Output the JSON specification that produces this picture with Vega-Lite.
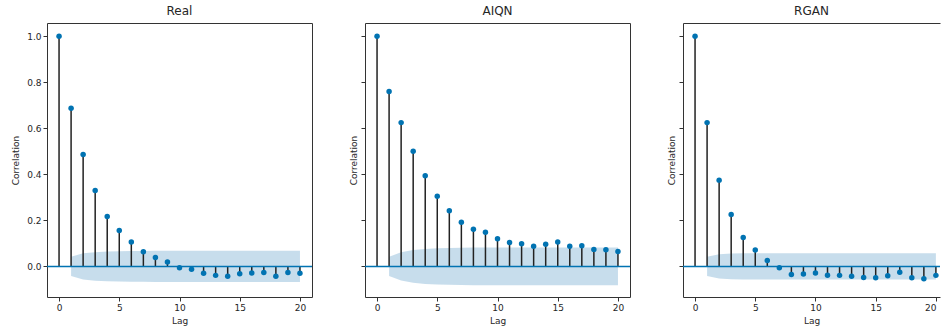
{
  "$schema": "https://vega.github.io/schema/vega-lite/v6.json",
  "padding": {"left": 11, "top": 4, "right": 0, "bottom": 2},
  "spacing": 53,
  "bounds": "flush",
  "datasets": {
    "acf": [
      {"s": "Real", "lag": 0, "v": 1.0}, {"s": "Real", "lag": 1, "v": 0.687}, {"s": "Real", "lag": 2, "v": 0.486}, {"s": "Real", "lag": 3, "v": 0.330}, {"s": "Real", "lag": 4, "v": 0.217}, {"s": "Real", "lag": 5, "v": 0.156}, {"s": "Real", "lag": 6, "v": 0.106}, {"s": "Real", "lag": 7, "v": 0.064}, {"s": "Real", "lag": 8, "v": 0.039}, {"s": "Real", "lag": 9, "v": 0.019}, {"s": "Real", "lag": 10, "v": -0.006}, {"s": "Real", "lag": 11, "v": -0.012}, {"s": "Real", "lag": 12, "v": -0.030}, {"s": "Real", "lag": 13, "v": -0.039}, {"s": "Real", "lag": 14, "v": -0.043}, {"s": "Real", "lag": 15, "v": -0.032}, {"s": "Real", "lag": 16, "v": -0.029}, {"s": "Real", "lag": 17, "v": -0.027}, {"s": "Real", "lag": 18, "v": -0.043}, {"s": "Real", "lag": 19, "v": -0.027}, {"s": "Real", "lag": 20, "v": -0.030},
      {"s": "AIQN", "lag": 0, "v": 1.0}, {"s": "AIQN", "lag": 1, "v": 0.760}, {"s": "AIQN", "lag": 2, "v": 0.625}, {"s": "AIQN", "lag": 3, "v": 0.501}, {"s": "AIQN", "lag": 4, "v": 0.394}, {"s": "AIQN", "lag": 5, "v": 0.305}, {"s": "AIQN", "lag": 6, "v": 0.242}, {"s": "AIQN", "lag": 7, "v": 0.192}, {"s": "AIQN", "lag": 8, "v": 0.161}, {"s": "AIQN", "lag": 9, "v": 0.148}, {"s": "AIQN", "lag": 10, "v": 0.120}, {"s": "AIQN", "lag": 11, "v": 0.104}, {"s": "AIQN", "lag": 12, "v": 0.098}, {"s": "AIQN", "lag": 13, "v": 0.088}, {"s": "AIQN", "lag": 14, "v": 0.096}, {"s": "AIQN", "lag": 15, "v": 0.106}, {"s": "AIQN", "lag": 16, "v": 0.088}, {"s": "AIQN", "lag": 17, "v": 0.090}, {"s": "AIQN", "lag": 18, "v": 0.074}, {"s": "AIQN", "lag": 19, "v": 0.072}, {"s": "AIQN", "lag": 20, "v": 0.065},
      {"s": "RGAN", "lag": 0, "v": 1.0}, {"s": "RGAN", "lag": 1, "v": 0.625}, {"s": "RGAN", "lag": 2, "v": 0.375}, {"s": "RGAN", "lag": 3, "v": 0.226}, {"s": "RGAN", "lag": 4, "v": 0.126}, {"s": "RGAN", "lag": 5, "v": 0.071}, {"s": "RGAN", "lag": 6, "v": 0.026}, {"s": "RGAN", "lag": 7, "v": -0.006}, {"s": "RGAN", "lag": 8, "v": -0.035}, {"s": "RGAN", "lag": 9, "v": -0.033}, {"s": "RGAN", "lag": 10, "v": -0.029}, {"s": "RGAN", "lag": 11, "v": -0.038}, {"s": "RGAN", "lag": 12, "v": -0.039}, {"s": "RGAN", "lag": 13, "v": -0.043}, {"s": "RGAN", "lag": 14, "v": -0.048}, {"s": "RGAN", "lag": 15, "v": -0.049}, {"s": "RGAN", "lag": 16, "v": -0.041}, {"s": "RGAN", "lag": 17, "v": -0.025}, {"s": "RGAN", "lag": 18, "v": -0.049}, {"s": "RGAN", "lag": 19, "v": -0.054}, {"s": "RGAN", "lag": 20, "v": -0.039}
    ],
    "band": [
      {"s": "Real", "lag": 1, "lo": -0.042, "hi": 0.042}, {"s": "Real", "lag": 2, "lo": -0.057, "hi": 0.057}, {"s": "Real", "lag": 3, "lo": -0.062, "hi": 0.062}, {"s": "Real", "lag": 4, "lo": -0.065, "hi": 0.065}, {"s": "Real", "lag": 5, "lo": -0.066, "hi": 0.066}, {"s": "Real", "lag": 6, "lo": -0.067, "hi": 0.067}, {"s": "Real", "lag": 7, "lo": -0.067, "hi": 0.067}, {"s": "Real", "lag": 8, "lo": -0.068, "hi": 0.068}, {"s": "Real", "lag": 9, "lo": -0.068, "hi": 0.068}, {"s": "Real", "lag": 10, "lo": -0.068, "hi": 0.068}, {"s": "Real", "lag": 11, "lo": -0.068, "hi": 0.068}, {"s": "Real", "lag": 12, "lo": -0.068, "hi": 0.068}, {"s": "Real", "lag": 13, "lo": -0.068, "hi": 0.068}, {"s": "Real", "lag": 14, "lo": -0.068, "hi": 0.068}, {"s": "Real", "lag": 15, "lo": -0.068, "hi": 0.068}, {"s": "Real", "lag": 16, "lo": -0.068, "hi": 0.068}, {"s": "Real", "lag": 17, "lo": -0.068, "hi": 0.068}, {"s": "Real", "lag": 18, "lo": -0.068, "hi": 0.068}, {"s": "Real", "lag": 19, "lo": -0.068, "hi": 0.068}, {"s": "Real", "lag": 20, "lo": -0.068, "hi": 0.068},
      {"s": "AIQN", "lag": 1, "lo": -0.042, "hi": 0.042}, {"s": "AIQN", "lag": 2, "lo": -0.061, "hi": 0.061}, {"s": "AIQN", "lag": 3, "lo": -0.071, "hi": 0.071}, {"s": "AIQN", "lag": 4, "lo": -0.076, "hi": 0.076}, {"s": "AIQN", "lag": 5, "lo": -0.079, "hi": 0.079}, {"s": "AIQN", "lag": 6, "lo": -0.080, "hi": 0.080}, {"s": "AIQN", "lag": 7, "lo": -0.081, "hi": 0.081}, {"s": "AIQN", "lag": 8, "lo": -0.082, "hi": 0.082}, {"s": "AIQN", "lag": 9, "lo": -0.082, "hi": 0.082}, {"s": "AIQN", "lag": 10, "lo": -0.082, "hi": 0.082}, {"s": "AIQN", "lag": 11, "lo": -0.082, "hi": 0.082}, {"s": "AIQN", "lag": 12, "lo": -0.082, "hi": 0.082}, {"s": "AIQN", "lag": 13, "lo": -0.082, "hi": 0.082}, {"s": "AIQN", "lag": 14, "lo": -0.082, "hi": 0.082}, {"s": "AIQN", "lag": 15, "lo": -0.082, "hi": 0.082}, {"s": "AIQN", "lag": 16, "lo": -0.082, "hi": 0.082}, {"s": "AIQN", "lag": 17, "lo": -0.082, "hi": 0.082}, {"s": "AIQN", "lag": 18, "lo": -0.082, "hi": 0.082}, {"s": "AIQN", "lag": 19, "lo": -0.082, "hi": 0.082}, {"s": "AIQN", "lag": 20, "lo": -0.082, "hi": 0.082},
      {"s": "RGAN", "lag": 1, "lo": -0.042, "hi": 0.042}, {"s": "RGAN", "lag": 2, "lo": -0.053, "hi": 0.053}, {"s": "RGAN", "lag": 3, "lo": -0.056, "hi": 0.056}, {"s": "RGAN", "lag": 4, "lo": -0.057, "hi": 0.057}, {"s": "RGAN", "lag": 5, "lo": -0.057, "hi": 0.057}, {"s": "RGAN", "lag": 6, "lo": -0.057, "hi": 0.057}, {"s": "RGAN", "lag": 7, "lo": -0.057, "hi": 0.057}, {"s": "RGAN", "lag": 8, "lo": -0.057, "hi": 0.057}, {"s": "RGAN", "lag": 9, "lo": -0.057, "hi": 0.057}, {"s": "RGAN", "lag": 10, "lo": -0.057, "hi": 0.057}, {"s": "RGAN", "lag": 11, "lo": -0.057, "hi": 0.057}, {"s": "RGAN", "lag": 12, "lo": -0.057, "hi": 0.057}, {"s": "RGAN", "lag": 13, "lo": -0.057, "hi": 0.057}, {"s": "RGAN", "lag": 14, "lo": -0.057, "hi": 0.057}, {"s": "RGAN", "lag": 15, "lo": -0.057, "hi": 0.057}, {"s": "RGAN", "lag": 16, "lo": -0.057, "hi": 0.057}, {"s": "RGAN", "lag": 17, "lo": -0.057, "hi": 0.057}, {"s": "RGAN", "lag": 18, "lo": -0.057, "hi": 0.057}, {"s": "RGAN", "lag": 19, "lo": -0.057, "hi": 0.057}, {"s": "RGAN", "lag": 20, "lo": -0.057, "hi": 0.057}
    ]
  },
  "hconcat": [
    {
      "width": 265, "height": 274, "title": "Real",
      "layer": [
        {"data": {"name": "band"}, "transform": [{"filter": "datum.s === 'Real'"}],
         "mark": {"type": "area", "color": "#1f77b4", "opacity": 0.25},
         "encoding": {
           "x": {"field": "lag", "type": "quantitative", "scale": {"domain": [-1, 21], "nice": false, "zero": false}, "axis": {"title": "Lag", "values": [0, 5, 10, 15, 20], "format": "d"}},
           "y": {"field": "lo", "type": "quantitative", "scale": {"domain": [-0.133, 1.058], "nice": false, "zero": false}, "axis": {"title": "Correlation", "values": [0, 0.2, 0.4, 0.6, 0.8, 1], "format": ".1f", "titlePadding": 6}},
           "y2": {"field": "hi"}}},
        {"data": {"name": "acf"}, "transform": [{"filter": "datum.s === 'Real'"}],
         "mark": {"type": "rule", "color": "#222222", "strokeWidth": 1.5},
         "encoding": {
           "x": {"field": "lag", "type": "quantitative", "scale": {"domain": [-1, 21], "nice": false, "zero": false}, "axis": {"title": "Lag", "values": [0, 5, 10, 15, 20], "format": "d"}},
           "y": {"field": "v", "type": "quantitative", "scale": {"domain": [-0.133, 1.058], "nice": false, "zero": false}, "axis": {"title": "Correlation", "values": [0, 0.2, 0.4, 0.6, 0.8, 1], "format": ".1f", "titlePadding": 6}},
           "y2": {"datum": 0}}},
        {"data": {"values": [{}]},
         "mark": {"type": "rule", "color": "#0173b2", "strokeWidth": 1.5},
         "encoding": {
           "y": {"datum": 0, "type": "quantitative", "scale": {"domain": [-0.133, 1.058], "nice": false, "zero": false}, "axis": {"title": "Correlation", "values": [0, 0.2, 0.4, 0.6, 0.8, 1], "format": ".1f", "titlePadding": 6}}}},
        {"data": {"name": "acf"}, "transform": [{"filter": "datum.s === 'Real'"}],
         "mark": {"type": "circle", "color": "#0173b2", "opacity": 1, "size": 30},
         "encoding": {
           "x": {"field": "lag", "type": "quantitative", "scale": {"domain": [-1, 21], "nice": false, "zero": false}, "axis": {"title": "Lag", "values": [0, 5, 10, 15, 20], "format": "d"}},
           "y": {"field": "v", "type": "quantitative", "scale": {"domain": [-0.133, 1.058], "nice": false, "zero": false}, "axis": {"title": "Correlation", "values": [0, 0.2, 0.4, 0.6, 0.8, 1], "format": ".1f", "titlePadding": 6}}}}
      ]
    },
    {
      "width": 265, "height": 274, "title": "AIQN",
      "layer": [
        {"data": {"name": "band"}, "transform": [{"filter": "datum.s === 'AIQN'"}],
         "mark": {"type": "area", "color": "#1f77b4", "opacity": 0.25},
         "encoding": {
           "x": {"field": "lag", "type": "quantitative", "scale": {"domain": [-1, 21], "nice": false, "zero": false}, "axis": {"title": "Lag", "values": [0, 5, 10, 15, 20], "format": "d"}},
           "y": {"field": "lo", "type": "quantitative", "scale": {"domain": [-0.133, 1.058], "nice": false, "zero": false}, "axis": {"title": "Correlation", "values": [0, 0.2, 0.4, 0.6, 0.8, 1], "labels": false, "titlePadding": 2}},
           "y2": {"field": "hi"}}},
        {"data": {"name": "acf"}, "transform": [{"filter": "datum.s === 'AIQN'"}],
         "mark": {"type": "rule", "color": "#222222", "strokeWidth": 1.5},
         "encoding": {
           "x": {"field": "lag", "type": "quantitative", "scale": {"domain": [-1, 21], "nice": false, "zero": false}, "axis": {"title": "Lag", "values": [0, 5, 10, 15, 20], "format": "d"}},
           "y": {"field": "v", "type": "quantitative", "scale": {"domain": [-0.133, 1.058], "nice": false, "zero": false}, "axis": {"title": "Correlation", "values": [0, 0.2, 0.4, 0.6, 0.8, 1], "labels": false, "titlePadding": 2}},
           "y2": {"datum": 0}}},
        {"data": {"values": [{}]},
         "mark": {"type": "rule", "color": "#0173b2", "strokeWidth": 1.5},
         "encoding": {
           "y": {"datum": 0, "type": "quantitative", "scale": {"domain": [-0.133, 1.058], "nice": false, "zero": false}, "axis": {"title": "Correlation", "values": [0, 0.2, 0.4, 0.6, 0.8, 1], "labels": false, "titlePadding": 2}}}},
        {"data": {"name": "acf"}, "transform": [{"filter": "datum.s === 'AIQN'"}],
         "mark": {"type": "circle", "color": "#0173b2", "opacity": 1, "size": 30},
         "encoding": {
           "x": {"field": "lag", "type": "quantitative", "scale": {"domain": [-1, 21], "nice": false, "zero": false}, "axis": {"title": "Lag", "values": [0, 5, 10, 15, 20], "format": "d"}},
           "y": {"field": "v", "type": "quantitative", "scale": {"domain": [-0.133, 1.058], "nice": false, "zero": false}, "axis": {"title": "Correlation", "values": [0, 0.2, 0.4, 0.6, 0.8, 1], "labels": false, "titlePadding": 2}}}}
      ]
    },
    {
      "width": 257, "height": 274, "title": "RGAN",
      "view": {"stroke": null},
      "resolve": {"axis": {"x": "independent"}},
      "layer": [
        {"data": {"name": "band"}, "transform": [{"filter": "datum.s === 'RGAN'"}],
         "mark": {"type": "area", "color": "#1f77b4", "opacity": 0.25},
         "encoding": {
           "x": {"field": "lag", "type": "quantitative", "scale": {"domain": [-1, 20.34], "nice": false, "zero": false}, "axis": {"orient": "top", "title": null, "labels": false, "ticks": false, "domain": true, "domainColor": "#333333"}},
           "y": {"field": "lo", "type": "quantitative", "scale": {"domain": [-0.133, 1.058], "nice": false, "zero": false}, "axis": {"title": "Correlation", "values": [0, 0.2, 0.4, 0.6, 0.8, 1], "labels": false, "titlePadding": 2, "domain": true, "domainColor": "#333333"}},
           "y2": {"field": "hi"}}},
        {"data": {"name": "acf"}, "transform": [{"filter": "datum.s === 'RGAN'"}],
         "mark": {"type": "rule", "color": "#222222", "strokeWidth": 1.5},
         "encoding": {
           "x": {"field": "lag", "type": "quantitative", "scale": {"domain": [-1, 20.34], "nice": false, "zero": false}, "axis": {"title": "Lag", "values": [0, 5, 10, 15, 20], "format": "d", "domain": true, "domainColor": "#333333", "labelFlush": 6}},
           "y": {"field": "v", "type": "quantitative", "scale": {"domain": [-0.133, 1.058], "nice": false, "zero": false}, "axis": {"title": "Correlation", "values": [0, 0.2, 0.4, 0.6, 0.8, 1], "labels": false, "titlePadding": 2, "domain": true, "domainColor": "#333333"}},
           "y2": {"datum": 0}}},
        {"data": {"values": [{}]},
         "mark": {"type": "rule", "color": "#0173b2", "strokeWidth": 1.5},
         "encoding": {
           "y": {"datum": 0, "type": "quantitative", "scale": {"domain": [-0.133, 1.058], "nice": false, "zero": false}, "axis": {"title": "Correlation", "values": [0, 0.2, 0.4, 0.6, 0.8, 1], "labels": false, "titlePadding": 2, "domain": true, "domainColor": "#333333"}}}},
        {"data": {"name": "acf"}, "transform": [{"filter": "datum.s === 'RGAN'"}],
         "mark": {"type": "circle", "color": "#0173b2", "opacity": 1, "size": 30},
         "encoding": {
           "x": {"field": "lag", "type": "quantitative", "scale": {"domain": [-1, 20.34], "nice": false, "zero": false}, "axis": null},
           "y": {"field": "v", "type": "quantitative", "scale": {"domain": [-0.133, 1.058], "nice": false, "zero": false}, "axis": {"title": "Correlation", "values": [0, 0.2, 0.4, 0.6, 0.8, 1], "labels": false, "titlePadding": 2, "domain": true, "domainColor": "#333333"}}}}
      ]
    }
  ],
  "config": {
    "font": "DejaVu Sans",
    "view": {"stroke": "#333333", "strokeWidth": 1},
    "axis": {"domain": false, "grid": false, "tickColor": "#333333", "tickSize": 4, "labelFontSize": 9, "labelColor": "#262626", "labelPadding": 2, "titleFontSize": 9, "titleFontWeight": "normal", "titleColor": "#262626"},
    "title": {"fontSize": 12, "fontWeight": "normal", "color": "#262626", "offset": 5}
  }
}
